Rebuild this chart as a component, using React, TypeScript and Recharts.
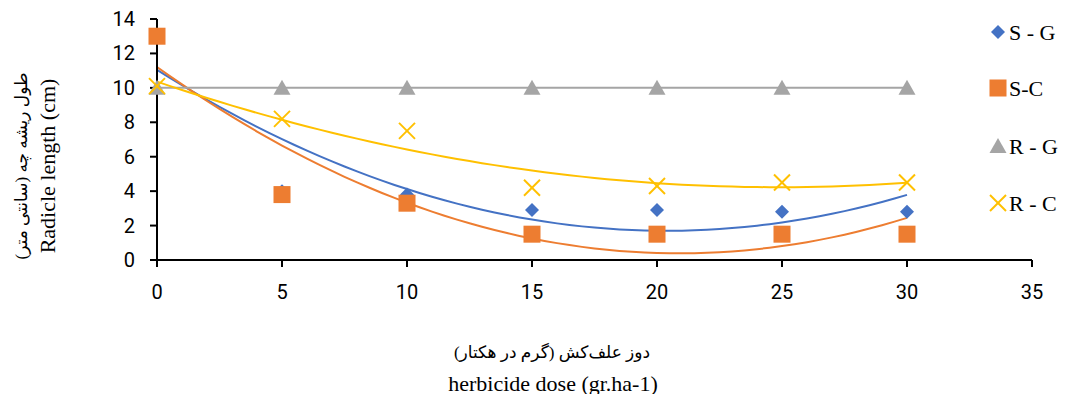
import React from "react";
import { ComposedChart, Scatter, Line, XAxis, YAxis } from "recharts";

const doses = [0, 5, 10, 15, 20, 25, 30];
const sG = [13, 4.0, 3.8, 2.9, 2.9, 2.8, 2.8];
const sC = [13, 3.8, 3.3, 1.5, 1.5, 1.5, 1.5];
const rG = [10, 10, 10, 10, 10, 10, 10];
const rC = [10.1, 8.2, 7.5, 4.2, 4.3, 4.5, 4.5];
const xTicks = [0, 5, 10, 15, 20, 25, 30, 35];
const yTicks = [0, 2, 4, 6, 8, 10, 12, 14];

const BLUE = "#4472C4", ORANGE = "#ED7D31", GREY = "#A5A5A5", GOLD = "#FFC000";
const SERIF = "'Liberation Serif', 'Times New Roman', 'DejaVu Sans', serif";
const TICKFONT = "Roboto, 'Noto Sans', sans-serif";

// Excel style 2nd-order polynomial trendline (least squares)
function quadFit(x: number[], y: number[]) {
  const s = [0, 0, 0, 0, 0], t = [0, 0, 0];
  x.forEach((xi, i) => {
    for (let k = 0; k < 5; k++) s[k] += Math.pow(xi, k);
    for (let k = 0; k < 3; k++) t[k] += y[i] * Math.pow(xi, k);
  });
  const M = [[s[0], s[1], s[2]], [s[1], s[2], s[3]], [s[2], s[3], s[4]]];
  const det = (m: number[][]) =>
    m[0][0] * (m[1][1] * m[2][2] - m[1][2] * m[2][1]) -
    m[0][1] * (m[1][0] * m[2][2] - m[1][2] * m[2][0]) +
    m[0][2] * (m[1][0] * m[2][1] - m[1][1] * m[2][0]);
  const D = det(M);
  const coef = [0, 1, 2].map((c) => det(M.map((row, r) => row.map((v, j) => (j === c ? t[r] : v)))) / D);
  return (v: number) => coef[0] + coef[1] * v + coef[2] * v * v;
}

const trend = (ys: number[]) => {
  const f = quadFit(doses, ys);
  const out = [];
  for (let v = 0; v <= 30; v += 0.5) out.push({ x: v, y: f(v) });
  return out;
};

const pts = (ys: number[]) => doses.map((d, i) => ({ x: d, y: ys[i] }));

const Diamond = ({ cx, cy }: any) => (
  <polygon points={`${cx},${cy - 7} ${cx + 7},${cy} ${cx},${cy + 7} ${cx - 7},${cy}`} fill={BLUE} />
);
const Square = ({ cx, cy }: any) => <rect x={cx - 8.5} y={cy - 8.5} width={17} height={17} fill={ORANGE} />;
const Tri = ({ cx, cy }: any) => (
  <polygon points={`${cx},${cy - 8} ${cx + 8.5},${cy + 7} ${cx - 8.5},${cy + 7}`} fill={GREY} />
);
const Cross = ({ cx, cy }: any) => (
  <g stroke={GOLD} strokeWidth={2}>
    <line x1={cx - 8} y1={cy - 8} x2={cx + 8} y2={cy + 8} />
    <line x1={cx - 8} y1={cy + 8} x2={cx + 8} y2={cy - 8} />
  </g>
);

const legendItems = [
  { name: "S - G", Icon: Diamond, y: 32 },
  { name: "S-C", Icon: Square, y: 88 },
  { name: "R - G", Icon: Tri, y: 146 },
  { name: "R - C", Icon: Cross, y: 203 },
];

const XTick = ({ x, y, payload }: any) => (
  <text x={x} y={y + 25} textAnchor="middle" dominantBaseline="central" fontSize={20} fontFamily={TICKFONT} fill="#000">
    {payload.value}
  </text>
);
const YTick = ({ x, y, payload }: any) => (
  <text x={x} y={y} textAnchor="end" dominantBaseline="central" fontSize={20} fontFamily={TICKFONT} fill="#000">
    {payload.value}
  </text>
);

const YTitle = () => {
  const cy = 166;
  return (
    <g fontFamily={SERIF} fill="#000" textAnchor="middle">
      <text x={21} y={cy} fontSize={17} transform={`rotate(-90, 21, ${cy})`} dominantBaseline="central">
        طول ریشه چه (سانتی متر)
      </text>
      <text x={47} y={cy} fontSize={22} transform={`rotate(-90, 47, ${cy})`} dominantBaseline="central">
        Radicle length (cm)
      </text>
    </g>
  );
};

const XTitle = () => (
  <g fontFamily={SERIF} fill="#000" textAnchor="middle">
    <text x={552} y={352} fontSize={17} dominantBaseline="central">دوز علف‌کش (گرم در هکتار)</text>
    <text x={553} y={383} fontSize={22} dominantBaseline="central">herbicide dose (gr.ha-1)</text>
  </g>
);

export default function App() {
  return (
    <div style={{ position: "absolute", left: 0, top: 0, width: 1065, height: 394, background: "#fff" }}>
      <ComposedChart width={1065} height={394} margin={{ top: 19, right: 33, left: 0, bottom: 0 }}>
        <XAxis
          type="number"
          dataKey="x"
          domain={[0, 35]}
          ticks={xTicks}
          height={134}
          stroke="#000"
          strokeWidth={2}
          tickSize={7}
          tickMargin={0}
          tick={<XTick />}
          label={<XTitle />}
        />
        <YAxis
          type="number"
          dataKey="y"
          domain={[0, 14]}
          ticks={yTicks}
          width={157}
          stroke="#000"
          strokeWidth={2}
          tickSize={7}
          tickMargin={15}
          tick={<YTick />}
          label={<YTitle />}
        />
        <Line data={trend(sG)} dataKey="y" stroke={BLUE} strokeWidth={2} dot={false} isAnimationActive={false} legendType="none" />
        <Line data={trend(sC)} dataKey="y" stroke={ORANGE} strokeWidth={2} dot={false} isAnimationActive={false} legendType="none" />
        <Line data={trend(rG)} dataKey="y" stroke={GREY} strokeWidth={2} dot={false} isAnimationActive={false} legendType="none" />
        <Line data={trend(rC)} dataKey="y" stroke={GOLD} strokeWidth={2} dot={false} isAnimationActive={false} legendType="none" />
        <Scatter name="S - G" data={pts(sG)} shape={<Diamond />} isAnimationActive={false} />
        <Scatter name="S-C" data={pts(sC)} shape={<Square />} isAnimationActive={false} />
        <Scatter name="R - G" data={pts(rG)} shape={<Tri />} isAnimationActive={false} />
        <Scatter name="R - C" data={pts(rC)} shape={<Cross />} isAnimationActive={false} />
      </ComposedChart>
      <svg width={90} height={230} style={{ position: "absolute", left: 980, top: 0 }}>
        {legendItems.map(({ name, Icon, y }) => (
          <g key={name}>
            <Icon cx={18} cy={y} />
            <text x={29} y={y} fontFamily={SERIF} fontSize={22} fill="#000" dominantBaseline="central">
              {name}
            </text>
          </g>
        ))}
      </svg>
    </div>
  );
}
